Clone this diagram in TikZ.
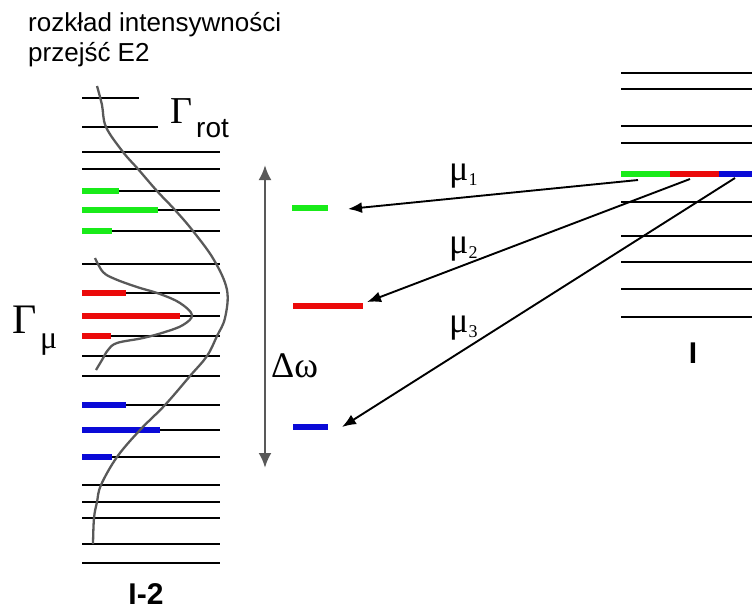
\documentclass[tikz,border=0pt]{standalone}
\usepackage{fontspec}
\setmainfont{Liberation Sans}
\newfontfamily\grk{Liberation Serif}
\usetikzlibrary{arrows.meta}

\definecolor{lvgreen}{RGB}{25,235,25}
\definecolor{lvred}{RGB}{235,10,10}
\definecolor{lvblue}{RGB}{10,10,215}
\colorlet{curve gray}{black!65}

\tikzstyle{level} = [draw, line width=2.2pt, black]
\tikzstyle{bar} = [draw, line width=6.5pt]
\tikzstyle{envelope} = [draw, line width=2.3pt, curve gray]
\tikzstyle{transition} = [draw, line width=1.9pt, -{Latex[length=14pt,width=11pt]}]
\tikzstyle{spread} = [draw, line width=2.6pt, curve gray, {Latex[length=15pt,width=13pt]}-{Latex[length=15pt,width=13pt]}]
\tikzset{
  lbl/.style={anchor=base west, inner sep=0pt},
  band/.style={anchor=base, inner sep=0pt, font=\fontsize{30}{34}\selectfont\bfseries}
  }

\begin{document}
\begin{tikzpicture}[x=1pt,y=-1pt]
    \useasboundingbox (0,0) rectangle (752,611);

    \node[lbl, align=left, font=\fontsize{26}{30}\selectfont] (title) at (28,61) {rozkład intensywności\\przejść E2};

    % band I-2
    \path[level] (82,98) -- (139,98);
    \path[level] (82,127) -- (158,127);
    \foreach \y in {152,169,191,210,231,264,293,316,336,356,376,405,430,457,485,502,518,544,563}
      \path[level] (82,\y) -- (220,\y);

    \foreach \y/\len/\col in {191/119/lvgreen, 210/158/lvgreen, 231/112/lvgreen,
                              293/126/lvred, 316/180/lvred, 336/111/lvred,
                              405/126/lvblue, 430/160/lvblue, 457/112/lvblue}
      \path[bar, \col] (82,\y) -- (\len,\y);

    \path[envelope] plot[smooth, tension=0.6] coordinates {(97,86) (102,105) (106,127) (123,152) (138,169) (157,191) (175,210)
      (193,231) (214,260) (227,290) (225,318) (217,336) (207,356) (190,376) (165,405) (140,430)
      (117,457) (101,485) (97,502) (94,518) (93,544)};
    \path[envelope] plot[smooth, tension=0.6] coordinates {(95,258) (103,272) (115,279) (137,287) (160,294) (180,303)
      (192,315) (183,325) (165,332) (143,338) (117,343) (108,350) (102,360) (96,370)};

    \node[lbl] (grot) at (170,123) {\grk\fontsize{38}{40}\selectfont Γ};
    \node[lbl] (rot) at (196,137) {\fontsize{28}{30}\selectfont rot};
    \node[lbl] (gmu) at (12,333) {\grk\fontsize{42}{44}\selectfont Γ};
    \node[lbl] (mu) at (40,348) {\grk\fontsize{32}{34}\selectfont μ};

    \node[band] (i2) at (146,604) {I-2};

    % spread of the levels
    \coordinate (top) at (265,165);
    \coordinate (bottom) at (265,468);
    \path[spread] (bottom) -- (top);
    \node[lbl] (dw) at (271,377) {\grk\fontsize{36}{38}\selectfont Δω};

    \path[bar, lvgreen] (292,208) -- (328,208);
    \path[bar, lvred] (293,306) -- (363,306);
    \path[bar, lvblue] (293,427) -- (328,427);

    % band I
    \foreach \y in {73,89,126,143,202,236,262,289,317}
      \path[level] (621,\y) -- (752,\y);
    \path[bar, lvgreen] (621,174) -- (670,174);
    \path[bar, lvred] (670,174) -- (719,174);
    \path[bar, lvblue] (719,174) -- (752,174);
    \node[band] (i) at (693,363) {I};

    \coordinate (s1) at (638,180);
    \coordinate (s2) at (690,179);
    \coordinate (s3) at (735,178);
    \coordinate (t1) at (348,209);
    \coordinate (t2) at (367,302);
    \coordinate (t3) at (342,427);
    \foreach \source/\sink in {s1/t1, s2/t2, s3/t3}
      \path[transition] (\source) -- (\sink);

    \foreach \i/\y in {1/180, 2/253, 3/332}
      \node[lbl] (mu\i) at (449,\y) {\grk\fontsize{36}{38}\selectfont μ\raisebox{-5pt}{\fontsize{18}{20}\selectfont\i}};

\end{tikzpicture}
\end{document}
